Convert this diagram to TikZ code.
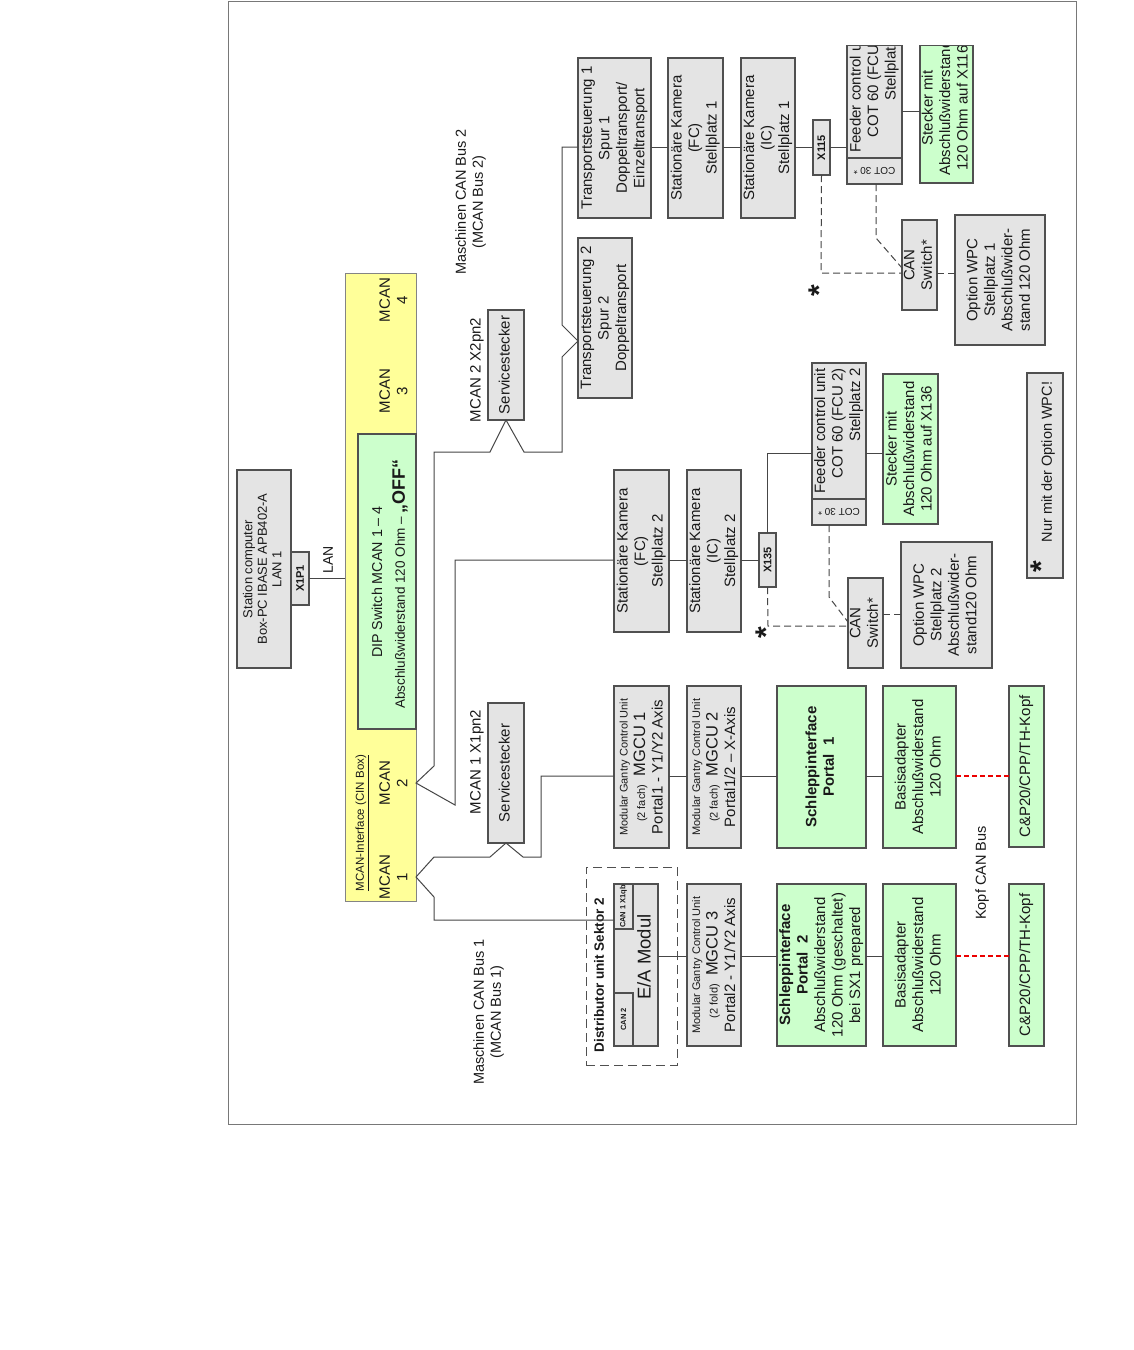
\documentclass[tikz,border=0pt]{standalone}
\usepackage{fontspec}
\setmainfont{Liberation Sans}
\usepackage{graphicx}
\usetikzlibrary{calc}
\definecolor{boxc}{RGB}{80,80,80}
\definecolor{grayf}{RGB}{228,228,228}
\definecolor{greenf}{RGB}{204,255,204}
\definecolor{yellowf}{RGB}{255,255,153}
\definecolor{wirec}{RGB}{70,70,70}
\definecolor{txtc}{RGB}{25,25,25}
\definecolor{framec}{RGB}{120,120,120}
\definecolor{redc}{RGB}{235,0,0}
\newcommand{\rt}[2][c]{\rotatebox{90}{\begin{tabular}{@{}#1@{}}#2\end{tabular}}}
\newcommand{\bx}[6]{\node[#1,minimum width={#5pt-#3pt},minimum height={#6pt-#4pt}] (#2) at (#3,#4) {};}
\newcommand{\bxn}[7]{\bx{#1}{#2}{#3}{#4}{#5}{#6}\node[txt] (#2-t) at (#2.center) {#7};}
\begin{document}
\begin{tikzpicture}[x=1pt,y=-1pt,
  box/.style={draw=boxc,fill=grayf,line width=1.3pt,inner sep=0pt,outer sep=0pt,anchor=north west,rectangle},
  gbox/.style={box,fill=greenf},
  ybox/.style={box,fill=yellowf,draw=boxc!70,line width=1pt},
  dbox/.style={box,fill=none,dash pattern=on 9pt off 5pt,line width=1pt},
  txt/.style={inner sep=0pt,outer sep=0pt,text=txtc,font=\fontsize{15}{17.5}\selectfont},
  wire/.style={draw=wirec,line width=1pt},
  dwire/.style={wire,dash pattern=on 7pt off 4pt},
  rwire/.style={draw=redc,line width=2.6pt,dash pattern=on 5pt off 3pt},
  star/.style={txt,font=\fontsize{30}{30}\selectfont\bfseries}]
\fill[white] (0,0) rectangle (1134,1350);
\useasboundingbox (0,0) rectangle (1134,1350);
\draw[draw=framec,line width=0.8pt] (228,1) rectangle (1076,1124);

% station computer
\bxn{box}{pc}{237}{470}{291}{668}{\fontsize{13}{14.5}\selectfont\rt{Station computer\\Box-PC IBASE APB402-A\\LAN 1}}
\bxn{box}{x1p1}{291}{552}{309}{605}{\fontsize{11}{12}\selectfont\bfseries\rotatebox{90}{X1P1}}
\node[txt,font=\fontsize{14}{16}\selectfont] (lan) at (328,560) {\rotatebox{90}{LAN}};

% MCAN interface
\bx{ybox}{cin}{345}{273}{416}{901}
\bx{gbox}{dip}{358}{434}{416}{729}
\node[txt,font=\fontsize{14.3}{17}\selectfont] (dip1) at (377,582) {\rotatebox{90}{DIP Switch MCAN 1 – 4}};
\node[txt,font=\fontsize{13.5}{17}\selectfont] (dip2) at (400,584) {\rotatebox{90}{Abschlußwiderstand 120 Ohm – {\fontsize{18}{18}\selectfont\bfseries „OFF“}}};
\node[txt] (m1) at (395,877) {\rt{MCAN\\1}};
\node[txt] (m2) at (395,783) {\rt{MCAN\\2}};
\node[txt] (m3) at (395,391) {\rt{MCAN\\3}};
\node[txt] (m4) at (395,300) {\rt{MCAN\\4}};
\node[txt,font=\fontsize{11.5}{13}\selectfont] (cinl) at (362,823) {\rotatebox{90}{\underline{MCAN-Interface (CIN Box)}}};

% service connectors and bus labels
\node[txt] (ss2l) at (477,370) {\rotatebox{90}{MCAN 2 X2pn2}};
\bxn{box}{ss2}{488}{310}{524}{420}{\rt{Servicestecker}}
\node[txt] (ss1l) at (477,762) {\rotatebox{90}{MCAN 1 X1pn2}};
\bxn{box}{ss1}{488}{703}{524}{843}{\rt{Servicestecker}}
\node[txt,font=\fontsize{14.5}{17}\selectfont] (bus2) at (471,202) {\rt{Maschinen CAN Bus 2\\(MCAN Bus 2)}};
\node[txt,font=\fontsize{14.5}{17}\selectfont] (bus1) at (489,1012) {\rt{Maschinen CAN Bus 1\\(MCAN Bus 1)}};

% Stellplatz 1 chain
\bxn{box}{ts1}{578}{58}{651}{218}{\rt{Transportsteuerung 1\\Spur 1\\Doppeltransport/\\Einzeltransport}}
\bxn{box}{ts2}{578}{238}{632}{398}{\rt{Transportsteuerung 2\\Spur 2\\Doppeltransport}}
\bxn{box}{fc1}{668}{58}{723}{218}{\rt{Stationäre Kamera\\(FC)\\Stellplatz 1}}
\bxn{box}{ic1}{741}{58}{795}{218}{\rt{Stationäre Kamera\\(IC)\\Stellplatz 1}}
\bxn{box}{x115}{813}{120}{830}{175}{\fontsize{11}{12}\selectfont\bfseries\rotatebox{90}{X115}}
\begin{scope}
\clip (840,45) rectangle (990,200);
\bxn{box}{fcu1}{847}{22}{902}{158}{\rt[r]{Feeder control unit\\COT 60 (FCU 1)\\Stellplatz 1}}
\bxn{gbox}{st1}{920}{33}{973}{183}{\rt{Stecker mit\\Abschlußwiderstand\\120 Ohm auf X116}}
\end{scope}
\coordinate (cliptop) at (0,45.5);
\draw[draw=boxc,line width=1.3pt] (fcu1.west |- cliptop) -- (fcu1.east |- cliptop);
\draw[draw=boxc,line width=1.3pt] (st1.west |- cliptop) -- (st1.east |- cliptop);
\bxn{box}{cot1}{847}{158}{902}{184}{\fontsize{10}{12}\selectfont\rotatebox{180}{COT 30 *}}
\bxn{box}{sw1}{902}{220}{937}{310}{\rt{CAN\\Switch*}}
\bxn{box}{wpc1}{955}{215}{1045}{345}{\rt{Option WPC\\Stellplatz 1\\Abschlußwider-\\stand 120 Ohm}}
\node[star] (star1) at (819,291) {\rotatebox{90}{*}};

% Stellplatz 2 chain
\bxn{box}{fc2}{614}{470}{669}{632}{\rt{Stationäre Kamera\\(FC)\\Stellplatz 2}}
\bxn{box}{ic2}{687}{470}{741}{632}{\rt{Stationäre Kamera\\(IC)\\Stellplatz 2}}
\bxn{box}{x135}{759}{533}{776}{587}{\fontsize{11}{12}\selectfont\bfseries\rotatebox{90}{X135}}
\bxn{box}{fcu2}{812}{363}{866}{499}{\rt[r]{Feeder control unit\\COT 60 (FCU 2)\\Stellplatz 2}}
\bxn{box}{cot2}{812}{499}{866}{525}{\fontsize{10}{12}\selectfont\rotatebox{180}{COT 30 *}}
\bxn{gbox}{st2}{883}{374}{938}{524}{\rt{Stecker mit\\Abschlußwiderstand\\120 Ohm auf X136}}
\bxn{box}{sw2}{848}{578}{883}{668}{\rt{CAN\\Switch*}}
\bxn{box}{wpc2}{901}{542}{992}{668}{\rt{Option WPC\\Stellplatz 2\\Abschlußwider-\\stand120 Ohm}}
\node[star] (star2) at (766,633) {\rotatebox{90}{*}};

% Portal chains
\bxn{box}{mgcu1}{614}{686}{669}{848}{\rt{{\fontsize{11}{13}\selectfont Modular Gantry Control Unit}\\{\fontsize{11}{13}\selectfont(2 fach)}\ \ {\fontsize{16.5}{18}\selectfont MGCU 1}\\Portal1 - Y1/Y2 Axis}}
\bxn{box}{mgcu2}{687}{686}{741}{848}{\rt{{\fontsize{11}{13}\selectfont Modular Gantry Control Unit}\\{\fontsize{11}{13}\selectfont(2 fach)}\ \ {\fontsize{16.5}{18}\selectfont MGCU 2}\\Portal1/2 – X-Axis}}
\bxn{gbox}{sp1}{777}{686}{866}{848}{\rt{\bfseries Schleppinterface\\\bfseries Portal\ \ 1}}
\bxn{gbox}{ba1}{883}{686}{956}{848}{\rt{Basisadapter\\Abschlußwiderstand\\120 Ohm}}
\bxn{gbox}{cp1}{1009}{686}{1044}{847}{\rt{C\&P20/CPP/TH-Kopf}}

\bx{dbox}{dist}{586}{867}{677}{1065}
\node[txt,font=\fontsize{13.5}{16}\selectfont\bfseries] (distl) at (599,975) {\rotatebox{90}{Distributor unit Sektor 2}};
\bx{box}{ea}{614}{884}{658}{1046}
\node[txt,font=\fontsize{18.5}{20}\selectfont] (eal) at (644,957) {\rotatebox{90}{E/A Modul}};
\bxn{box}{can1}{614}{884}{633}{929}{\fontsize{7.5}{8}\selectfont\bfseries\rotatebox{90}{CAN 1 X1qb}}
\bxn{box}{can2}{614}{993}{633}{1046}{\fontsize{7.5}{8}\selectfont\bfseries\rotatebox{90}{CAN 2}}
\bxn{box}{mgcu3}{687}{884}{741}{1046}{\rt{{\fontsize{11}{13}\selectfont Modular Gantry Control Unit}\\{\fontsize{11}{13}\selectfont(2 fold)}\ \ {\fontsize{16.5}{18}\selectfont MGCU 3}\\Portal2 - Y1/Y2 Axis}}
\bxn{gbox}{sp2}{777}{884}{866}{1046}{\rt{\bfseries Schleppinterface\\\bfseries Portal\ \ 2\\Abschlußwiderstand\\120 Ohm (geschaltet)\\bei SX1 prepared}}
\bxn{gbox}{ba2}{883}{884}{956}{1046}{\rt{Basisadapter\\Abschlußwiderstand\\120 Ohm}}
\bxn{gbox}{cp2}{1009}{884}{1044}{1046}{\rt{C\&P20/CPP/TH-Kopf}}
\node[txt,font=\fontsize{14.5}{17}\selectfont] (kopf) at (982,873) {\rotatebox{90}{Kopf CAN Bus}};

% note box
\bx{box}{nur}{1027}{373}{1063}{578}
\node[txt,font=\fontsize{14.5}{17}\selectfont] (nurt) at (1048,462) {\rotatebox{90}{Nur mit der Option WPC!}};
\node[star] (star3) at (1041,567) {\rotatebox{90}{*}};

% ---------- connectors ----------
\coordinate (r0) at (0,147);
\coordinate (r1) at (0,776);
\coordinate (r2) at (0,956);
\coordinate (r3) at (0,560);
\coordinate (r4) at (0,453);
\coordinate (r5) at (0,111);
% LAN
\draw[wire] (x1p1.east) -- (cin.west |- x1p1.east);
% MCAN 1
\coordinate (v1) at (416,877);
\coordinate (v1u) at (434,857);
\coordinate (v1d) at (434,897);
\coordinate (v1e) at (434,920);
\coordinate (s1l) at (490,857);
\coordinate (s1r) at (523,857);
\coordinate (s1c) at (541,857);
\draw[wire] (can1.west |- v1e) -- (v1e) -- (v1d) -- (v1) -- (v1u) -- (s1l) -- (ss1.south) -- (s1r) -- (s1c) -- (s1c |- r1) -- (mgcu1.west |- r1);
% MCAN 2
\coordinate (v2) at (416,783);
\coordinate (v2u) at (434,766);
\coordinate (v2d) at (455,805);
\coordinate (v2t) at (434,452);
\coordinate (s2l) at (490,452);
\coordinate (s2r) at (524,452);
\coordinate (s2c) at (562,452);
\coordinate (t2d) at (562,357);
\coordinate (t2v) at (578,341);
\coordinate (t2u) at (562,325);
\draw[wire] (fc2.west |- r3) -- (v2d |- r3) -- (v2d) -- (v2) -- (v2u) -- (v2t) -- (s2l) -- (ss2.south) -- (s2r) -- (s2c) -- (t2d) -- (t2v) -- (t2u) -- (t2u |- r0) -- (ts1.west |- r0);
% Stellplatz 1
\draw[wire] (ts1.east |- r0) -- (fc1.west |- r0);
\draw[wire] (fc1.east |- r0) -- (ic1.west |- r0);
\draw[wire] (ic1.east |- r0) -- (x115.west |- r0);
\draw[wire] (x115.east |- r0) -- (fcu1.west |- r0);
\draw[wire] (fcu1.east |- r5) -- (st1.west |- r5);
\coordinate (d1) at (821,273);
\draw[dwire] (x115.south) -- (d1) -- (sw1.west |- d1);
\coordinate (d2) at (876,238);
\coordinate (d3) at (902,268);
\draw[dwire] (cot1.south -| d2) -- (d2) -- (d3);
\draw[dwire] (sw1.east |- d1) -- (wpc1.west |- d1);
% Stellplatz 2
\draw[wire] (fc2.east |- r3) -- (ic2.west |- r3);
\draw[wire] (ic2.east |- r3) -- (x135.west |- r3);
\draw[wire] (x135.north) -- (x135.north |- r4) -- (fcu2.west |- r4);
\draw[wire] (fcu2.east |- r4) -- (st2.west |- r4);
\coordinate (e1) at (768,626);
\draw[dwire] (x135.south) -- (e1) -- (sw2.west |- e1);
\coordinate (e2) at (829,597);
\coordinate (e3) at (848,622);
\draw[dwire] (cot2.south -| e2) -- (e2) -- (e3);
\coordinate (e4) at (0,614);
\draw[dwire] (sw2.east |- e4) -- (wpc2.west |- e4);
% Portal rows
\draw[wire] (mgcu1.east |- r1) -- (mgcu2.west |- r1);
\draw[wire] (mgcu2.east |- r1) -- (sp1.west |- r1);
\draw[wire] (sp1.east |- r1) -- (ba1.west |- r1);
\draw[rwire] (ba1.east |- r1) -- (cp1.west |- r1);
\draw[wire] (ea.east |- r2) -- (mgcu3.west |- r2);
\draw[wire] (mgcu3.east |- r2) -- (sp2.west |- r2);
\draw[wire] (sp2.east |- r2) -- (ba2.west |- r2);
\draw[rwire] (ba2.east |- r2) -- (cp2.west |- r2);
\end{tikzpicture}
\end{document}
